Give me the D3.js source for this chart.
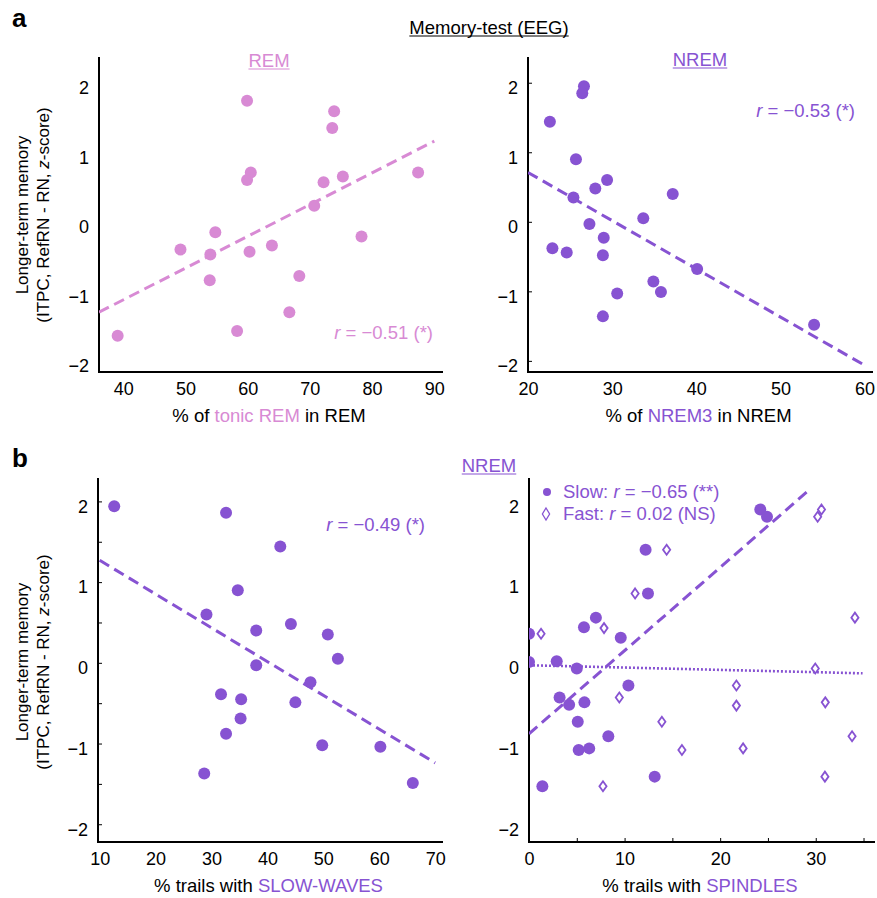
<!DOCTYPE html>
<html>
<head>
<meta charset="utf-8">
<script src="https://cdn.jsdelivr.net/npm/d3@7"></script>
<style>
  body { margin: 0; background: #fff; }
  text { font-family: "Liberation Sans", Arial, sans-serif; }
</style>
</head>
<body>
<div id="vis"></div>
<script>
// values
var remX = [39.1, 49.2, 54.0, 53.9, 54.8, 59.9, 59.9, 60.5, 60.3, 58.3, 63.9, 66.7, 68.3, 70.7, 72.2, 73.6, 73.9, 75.3, 78.3, 87.4]
var remY = [-1.64, -0.40, -0.47, -0.84, -0.15, 1.74, 0.60, 0.71, -0.43, -1.57, -0.34, -1.30, -0.78, 0.23, 0.57, 1.35, 1.59, 0.65, -0.21, 0.71]
var remFit = [[36.1, -1.30], [90, 1.16]]

var nremX = [22.6, 26.65, 26.45, 25.7, 28.0, 29.4, 25.4, 27.3, 29.0, 28.9, 22.9, 24.6, 28.9, 30.6, 33.7, 34.9, 35.8, 37.2, 40.1, 54.0]
var nremY = [1.44, 1.95, 1.85, 0.90, 0.48, 0.60, 0.35, -0.03, -0.23, -0.48, -0.38, -0.44, -1.36, -1.03, 0.05, -0.86, -1.01, 0.40, -0.68, -1.48]
var nremFit = [[20, 0.71], [60.1, -2.07]]

var swX = [12.6, 32.6, 42.3, 34.7, 29.1, 38.0, 44.2, 50.8, 52.6, 38.0, 47.7, 31.7, 35.3, 45.0, 35.2, 32.6, 49.8, 60.2, 28.7, 66.0]
var swY = [1.94, 1.86, 1.44, 0.90, 0.60, 0.40, 0.48, 0.35, 0.05, -0.03, -0.24, -0.39, -0.45, -0.49, -0.69, -0.88, -1.02, -1.04, -1.37, -1.49]
var swFit = [[10, 1.27], [70, -1.24]]

var slowX = [0.0, 0.0, 1.4, 2.9, 3.2, 4.2, 5.0, 5.75, 5.8, 5.1, 5.2, 6.3, 7.0, 8.3, 9.6, 10.4, 12.2, 12.45, 13.15, 24.2, 24.9]
var slowY = [0.36, 0.01, -1.53, 0.02, -0.43, -0.52, -0.07, 0.44, -0.49, -0.73, -1.08, -1.06, 0.56, -0.91, 0.31, -0.28, 1.40, 0.86, -1.41, 1.90, 1.81]
var slowFit = [[0, -0.88], [29.2, 2.13]]

var fastX = [1.26, 7.85, 7.74, 9.45, 11.1, 14.4, 13.9, 16.0, 21.7, 21.7, 22.4, 29.95, 30.2, 30.6, 31.0, 30.96, 33.8, 34.1]
var fastY = [0.36, 0.43, -1.53, -0.43, 0.86, 1.40, -0.73, -1.08, -0.28, -0.53, -1.06, -0.07, 1.81, 1.90, -0.49, -1.41, -0.91, 0.56]
var fastFit = [[0, -0.03], [34.9, -0.13]]

var yTicks = [-2, -1, 0, 1, 2]
var yHalfTicks = [-2, -1.5, -1, -0.5, 0, 0.5, 1, 1.5, 2]
var remTicks = [40, 50, 60, 70, 80, 90]
var nremTicks = [20, 30, 40, 50, 60]
var swTicks = [10, 20, 30, 40, 50, 60, 70]
var spTicks = [0, 5, 10, 15, 20, 25, 30, 35]

var pink = "#d88ad4"
var purple = "#8753d2"
var fs = 18.5
var tickFs = 18

var w = 877
var h = 898

var chart = d3.select("#vis")
              .append("svg")
              .attr("width", w)
              .attr("height", h)

function zip(xs, ys) { return xs.map((x, i) => ({x: x, y: ys[i]})) }

function underline(t, color) {
  var b = t.node().getBBox()
  chart.append("line")
       .attr("x1", b.x).attr("x2", b.x + b.width)
       .attr("y1", b.y + b.height - 2).attr("y2", b.y + b.height - 2)
       .attr("stroke", color).attr("stroke-width", 1.2)
}

// one scatter panel
function panel(p) {
  var xScale = d3.scaleLinear().domain(p.xDom).range([p.left, p.right])
  var yScale = d3.scaleLinear().domain(p.yDom).range([p.bottom, p.top])
  var g = chart.append("g")
  var id = "clip" + p.left + "_" + p.top
  g.append("clipPath").attr("id", id)
   .append("rect")
   .attr("x", p.left).attr("y", p.top - 20)
   .attr("width", p.right - p.left + 10).attr("height", p.bottom - p.top + 20)

  var xAxis = g.append("g")
               .attr("transform", `translate(0,${p.bottom})`)
               .call(d3.axisBottom(xScale).tickValues(p.xTicks)
                       .tickSize(p.xTickLen ? -p.xTickLen : 0).tickPadding(10)
                       .tickFormat(d => p.xLabels.includes(d) ? d : ""))
  var yAxis = g.append("g")
               .attr("transform", `translate(${p.left},0)`)
               .call(d3.axisLeft(yScale).tickValues(p.yTicks)
                       .tickSize(p.yTickLen ? -p.yTickLen : 0).tickPadding(10)
                       .tickFormat(d => Number.isInteger(d) ? (d < 0 ? "\u2212" + (-d) : d) : ""))
  yAxis.selectAll("text").attr("dy", "0.6em")
  ;[xAxis, yAxis].forEach(a => {
    a.selectAll("text").attr("font-size", tickFs).attr("fill", "#000")
      .attr("font-family", "Liberation Sans, Arial, sans-serif")
    a.selectAll(".tick line").attr("stroke", "#000").attr("stroke-width", 1)
    a.select(".domain").remove()
  })
  g.append("line").attr("x1", p.left).attr("x2", p.left)
   .attr("y1", p.top).attr("y2", p.bottom + 1)
   .attr("stroke", "#000").attr("stroke-width", 2)
  g.append("line").attr("x1", p.left - 1).attr("x2", p.right)
   .attr("y1", p.bottom).attr("y2", p.bottom)
   .attr("stroke", "#000").attr("stroke-width", 2)

  var plot = g.append("g").attr("clip-path", `url(#${id})`)
  p.series.forEach(s => {
    if (s.shape == "diamond") {
      plot.selectAll(null).data(zip(s.x, s.y)).enter()
          .append("path")
          .attr("d", "M0,-5L3.6,0L0,5L-3.6,0Z")
          .attr("transform", d => `translate(${xScale(d.x)},${yScale(d.y)})`)
          .attr("fill", "#fff")
          .attr("stroke", s.color)
          .attr("stroke-width", 1.8)
    } else {
      plot.selectAll(null).data(zip(s.x, s.y)).enter()
          .append("circle")
          .attr("cx", d => xScale(d.x))
          .attr("cy", d => yScale(d.y))
          .attr("r", 6)
          .attr("fill", s.color)
    }
  })
  p.fits.forEach(f => {
    plot.append("line")
        .attr("x1", xScale(f.pts[0][0])).attr("y1", yScale(f.pts[0][1]))
        .attr("x2", xScale(f.pts[1][0])).attr("y2", yScale(f.pts[1][1]))
        .attr("stroke", f.color)
        .attr("stroke-width", f.dots ? 2.6 : 3)
        .attr("stroke-dasharray", f.dots ? "2,2" : "11,6")
  })

  // x title, mixed colour
  var xt = chart.append("text")
                .attr("x", (p.left + p.right) / 2 - 2).attr("y", p.bottom + 50)
                .attr("text-anchor", "middle").attr("font-size", fs)
  p.xTitle.forEach(t => xt.append("tspan").text(t[0]).attr("fill", t[1]))

  if (p.yTitle) {
    chart.append("text")
         .attr("transform", `translate(22,${p.yMid}) rotate(-90)`)
         .attr("text-anchor", "middle").attr("font-size", 17)
         .attr("dy", "0.35em")
         .text("Longer-term memory")
    var yt2 = chart.append("text")
                   .attr("transform", `translate(43,${p.yMid}) rotate(-90)`)
                   .attr("text-anchor", "middle").attr("font-size", 17)
                   .attr("dy", "0.35em")
    yt2.append("tspan").text("(ITPC, RefRN - RN, ")
    yt2.append("tspan").attr("font-style", "italic").text("z")
    yt2.append("tspan").text("-score)")
  }
  return {x: xScale, y: yScale}
}

function rLabel(x, y, anchor, color, before, after) {
  var t = chart.append("text").attr("x", x).attr("y", y)
               .attr("text-anchor", anchor).attr("font-size", fs).attr("fill", color)
  t.append("tspan").text(before)
  t.append("tspan").attr("font-style", "italic").text("r")
  t.append("tspan").text(after)
  return t
}

panel({left: 99, right: 443, top: 57, bottom: 372, xDom: [36.1, 91.4], yDom: [-2.16, 2.37],
       xTicks: remTicks, xLabels: remTicks, yTicks: yTicks, yTickLen: 0, yMid: 215, yTitle: true,
       series: [{x: remX, y: remY, color: pink}],
       fits: [{pts: remFit, color: pink}],
       xTitle: [["% of ", "#000"], ["tonic REM", pink], [" in REM", "#000"]]})

panel({left: 528, right: 873, top: 57, bottom: 372, xDom: [20, 61], yDom: [-2.16, 2.37],
       xTicks: nremTicks, xLabels: nremTicks, yTicks: yTicks, yTickLen: 4, yMid: 215, yTitle: false,
       series: [{x: nremX, y: nremY, color: purple}],
       fits: [{pts: nremFit, color: purple}],
       xTitle: [["% of ", "#000"], ["NREM3", purple], [" in NREM", "#000"]]})

panel({left: 98, right: 443, top: 478, bottom: 842, xDom: [9.7, 71.4], yDom: [-2.22, 2.29],
       xTicks: swTicks, xLabels: swTicks, yTicks: yHalfTicks, yTickLen: 4, yMid: 662, yTitle: true,
       series: [{x: swX, y: swY, color: purple}],
       fits: [{pts: swFit, color: purple}],
       xTitle: [["% trails with ", "#000"], ["SLOW-WAVES", purple]]})

panel({left: 529, right: 875, top: 478, bottom: 842, xDom: [0, 36.2], yDom: [-2.22, 2.29],
       xTicks: spTicks, xLabels: [0, 10, 20, 30], xTickLen: 4, yTicks: yTicks, yTickLen: 0, yMid: 662, yTitle: false,
       series: [{x: fastX, y: fastY, color: purple, shape: "diamond"}, {x: slowX, y: slowY, color: purple}],
       fits: [{pts: slowFit, color: purple}, {pts: fastFit, color: purple, dots: true}],
       xTitle: [["% trails with ", "#000"], ["SPINDLES", purple]]})

// annotations
rLabel(433, 339, "end", pink, "", " = \u22120.51 (*)")
rLabel(855, 117, "end", purple, "", " = \u22120.53 (*)")
rLabel(425, 531, "end", purple, "", " = \u22120.49 (*)")
rLabel(563, 498, "start", purple, "Slow: ", " = \u22120.65 (**)")
rLabel(563, 520, "start", purple, "Fast: ", " = 0.02 (NS)")
chart.append("circle").attr("cx", 547).attr("cy", 492).attr("r", 4).attr("fill", purple)
chart.append("path").attr("d", "M0,-6L3.6,0L0,6L-3.6,0Z")
     .attr("transform", "translate(546,514)")
     .attr("fill", "#fff").attr("stroke", purple).attr("stroke-width", 1.3)

// titles
var t1 = chart.append("text").attr("x", 489).attr("y", 34).attr("text-anchor", "middle")
              .attr("font-size", fs).text("Memory-test (EEG)")
underline(t1, "#000")
var t2 = chart.append("text").attr("x", 269).attr("y", 67).attr("text-anchor", "middle")
              .attr("font-size", fs).attr("fill", pink).text("REM")
underline(t2, pink)
var t3 = chart.append("text").attr("x", 700).attr("y", 66).attr("text-anchor", "middle")
              .attr("font-size", fs).attr("fill", purple).text("NREM")
underline(t3, purple)
var t4 = chart.append("text").attr("x", 489).attr("y", 472).attr("text-anchor", "middle")
              .attr("font-size", fs).attr("fill", purple).text("NREM")
underline(t4, purple)

chart.append("text").attr("x", 12).attr("y", 27).attr("font-size", 26)
     .attr("font-weight", "bold").text("a")
chart.append("text").attr("x", 12).attr("y", 467).attr("font-size", 26)
     .attr("font-weight", "bold").text("b")
</script>
</body>
</html>
